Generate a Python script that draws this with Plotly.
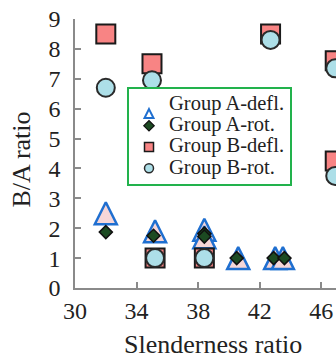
import plotly.graph_objects as go

# Data
a_defl_x = [32.0, 35.2, 38.4, 38.4, 40.6, 43.0, 43.5]
a_defl_y = [2.5, 1.9, 1.95, 1.7, 1.0, 1.0, 1.0]
a_rot_x = [32.0, 35.1, 38.4, 38.4, 40.5, 42.9, 43.6]
a_rot_y = [1.87, 1.75, 1.82, 1.72, 1.0, 1.0, 1.0]
b_defl_x = [32.0, 35.0, 35.2, 38.4, 42.7, 46.9, 46.9]
b_defl_y = [8.5, 7.5, 1.0, 1.0, 8.5, 7.6, 4.25]
b_rot_x = [32.0, 35.0, 35.2, 38.4, 42.7, 46.9, 46.9]
b_rot_y = [6.7, 6.95, 1.0, 1.0, 8.3, 7.35, 3.75]

names = ["Group A-defl.", "Group A-rot.", "Group B-defl.", "Group B-rot."]
x_ticks = [30, 34, 38, 42, 46]
y_ticks = [0, 1, 2, 3, 4, 5, 6, 7, 8, 9]

FONT = "Liberation Serif, Times New Roman, serif"
TRI = 22

BLUE, PINK = "#1F6FD0", "#F6D6D8"
GREEN = "#1C4A22"
SALMON = "#F88484"
LBLUE = "#ADDFE8"


def leg_name(s):
    return '<span style="font-size:20.5px">' + s + "</span>"


fig = go.Figure()

# data traces (drawn in legend order: triangles, diamonds, squares, circles)
fig.add_trace(go.Scatter(
    x=a_defl_x, y=a_defl_y, mode="markers", name=names[0], showlegend=False,
    legendgroup="ad",
    marker=dict(symbol="arrow-down", angle=180, standoff=TRI / 2, size=TRI,
                color=PINK, line=dict(color=BLUE, width=2.5)),
))
fig.add_trace(go.Scatter(
    x=a_rot_x, y=a_rot_y, mode="markers", name=names[1], showlegend=False,
    legendgroup="ar",
    marker=dict(symbol="diamond", size=10, color=GREEN,
                line=dict(color="#111111", width=1.5)),
))
fig.add_trace(go.Scatter(
    x=b_defl_x, y=b_defl_y, mode="markers", name=names[2], showlegend=False,
    legendgroup="bd",
    marker=dict(symbol="square", size=19, color=SALMON,
                line=dict(color="#1A1A1A", width=2)),
))
fig.add_trace(go.Scatter(
    x=b_rot_x, y=b_rot_y, mode="markers", name=names[3], showlegend=False,
    legendgroup="br",
    marker=dict(symbol="circle", size=18, color=LBLUE,
                line=dict(color="#2A2A2A", width=2)),
))

# legend entries (small symbols as in the reference legend)
leg_markers = [
    ("ad", dict(symbol="arrow-down", angle=180, standoff=4.5, size=9,
                color="white", line=dict(color=BLUE, width=2))),
    ("ar", dict(symbol="diamond", size=8, color=GREEN,
                line=dict(color="#111111", width=1.2))),
    ("bd", dict(symbol="square", size=9, color=SALMON,
                line=dict(color="#1A1A1A", width=1.5))),
    ("br", dict(symbol="circle", size=9, color=LBLUE,
                line=dict(color="#2A2A2A", width=1.5))),
]
for nm, (grp, mk) in zip(names, leg_markers):
    fig.add_trace(go.Scatter(
        x=[None], y=[None], mode="markers", name=leg_name(nm),
        legendgroup=grp, marker=mk, hoverinfo="skip",
    ))

L, T, B = 75, 19, 72
W, H = 336, 360
pw, ph = W - L, H - T - B

fig.update_layout(
    width=W, height=H,
    margin=dict(l=L, r=0, t=T, b=B),
    paper_bgcolor="white", plot_bgcolor="white",
    font=dict(family=FONT, color="#222222"),
    showlegend=True,
    legend=dict(
        x=(127 - L) / pw, y=(H - B - 87) / ph, xanchor="left", yanchor="top",
        bordercolor="#22B24C", borderwidth=2, bgcolor="white",
        font=dict(family=FONT, size=14, color="#222222"),
        itemsizing="trace", tracegroupgap=0,
        entrywidth=136, entrywidthmode="pixels",
    ),
    xaxis=dict(
        range=[30, 46.95], tickvals=x_ticks, ticktext=[str(v) for v in x_ticks],
        showline=True, linecolor="#8A8A8A", linewidth=1.5,
        ticks="inside", ticklen=6, tickcolor="#8A8A8A", tickwidth=1.5,
        showgrid=False, zeroline=False,
        tickfont=dict(family=FONT, size=24, color="#222222"),
    ),
    yaxis=dict(
        range=[0, 9], tickvals=y_ticks, ticktext=[str(v) for v in y_ticks],
        showline=True, linecolor="#8A8A8A", linewidth=1.5,
        ticks="inside", ticklen=6, tickcolor="#8A8A8A", tickwidth=1.5,
        showgrid=False, zeroline=False,
        tickfont=dict(family=FONT, size=24, color="#222222"),
        ticklabelstandoff=8,
    ),
    annotations=[
        dict(text="Slenderness ratio", xref="paper", yref="paper",
             x=(213 - L) / pw, y=-(B + 1) / ph, xanchor="center", yanchor="bottom",
             showarrow=False, font=dict(family=FONT, size=26, color="#222222")),
        dict(text="B/A ratio", xref="paper", yref="paper", textangle=-90,
             x=-(L - 4) / pw, y=(H - B - 160) / ph, xanchor="left", yanchor="middle",
             showarrow=False, font=dict(family=FONT, size=26, color="#222222")),
    ],
)

fig.write_html("out.html")
